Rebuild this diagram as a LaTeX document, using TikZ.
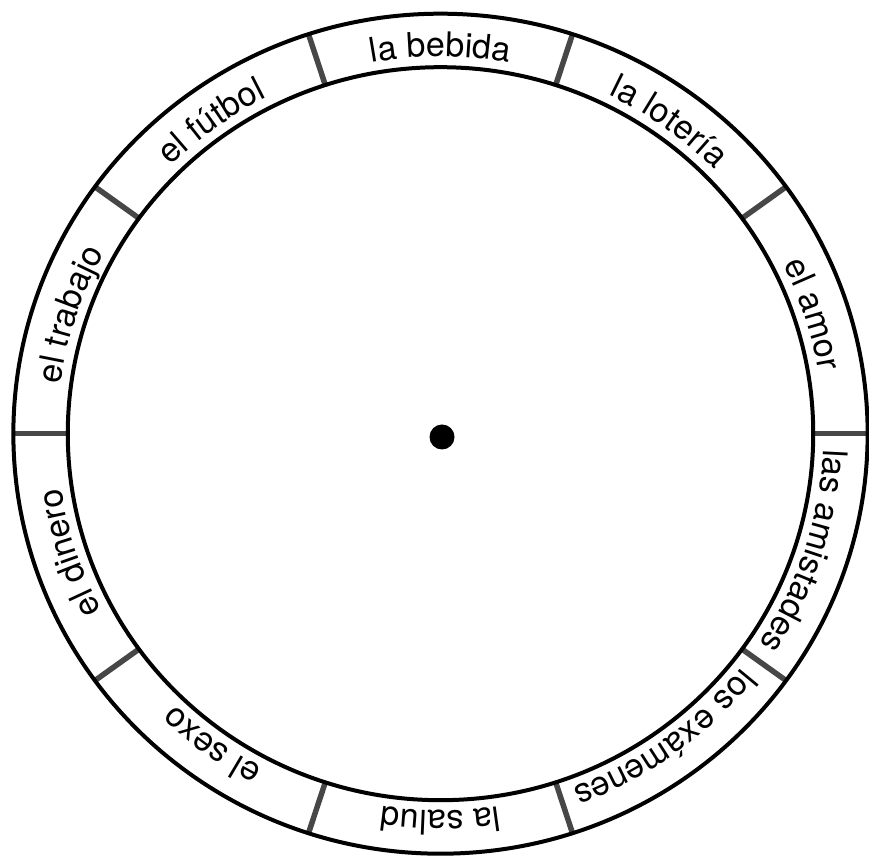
\documentclass[tikz,border=0pt]{standalone}
\usepackage{fontspec}
\setmainfont{TeX Gyre Heros}
\usetikzlibrary{decorations.text}
\newcommand\lblfont{\fontsize{34}{40}\selectfont}
\tikzset{
  ring/.style={draw=black, line width=4pt},
  divider/.style={draw=black!72, line width=5.5pt},
  lbl/.style={decorate, decoration={text along path, text align=center, text={|\lblfont|#1}}}
}
\begin{document}
\begin{tikzpicture}[x=1pt,y=1pt]
\useasboundingbox (0,0) rectangle (869,856);
\begin{scope}[shift={(440.5,422.3)}, xscale=1.017]
  \foreach \a in {0,36,...,324} \draw[divider] (\a:367) -- (\a:420);
  \draw[ring] (0,0) circle[radius=420];
  \draw[ring] (0,0) circle[radius=366.5];
  \path[lbl={la bebida}]     (130:377) arc[start angle=130, end angle=50, radius=377];
  \path[lbl={la lotería}]    (94:377)  arc[start angle=94,  end angle=14, radius=377];
  \path[lbl={el amor}]       (58:377)  arc[start angle=58,  end angle=-22, radius=377];
  \path[lbl={las amistades}] (22:377)  arc[start angle=22,  end angle=-58, radius=377];
  \path[lbl={los exámenes}]  (-14:377) arc[start angle=-14, end angle=-94, radius=377];
  \path[lbl={la salud}]      (-50:377) arc[start angle=-50, end angle=-130, radius=377];
  \path[lbl={el sexo}]       (-86:377) arc[start angle=-86, end angle=-166, radius=377];
  \path[lbl={el dinero}]     (-122:377) arc[start angle=-122, end angle=-202, radius=377];
  \path[lbl={el trabajo}]    (202:377) arc[start angle=202, end angle=122, radius=377];
  \path[lbl={el fútbol}]     (166:377) arc[start angle=166, end angle=86, radius=377];
\end{scope}
\fill (442,419) circle[radius=12.5];
\end{tikzpicture}
\end{document}
